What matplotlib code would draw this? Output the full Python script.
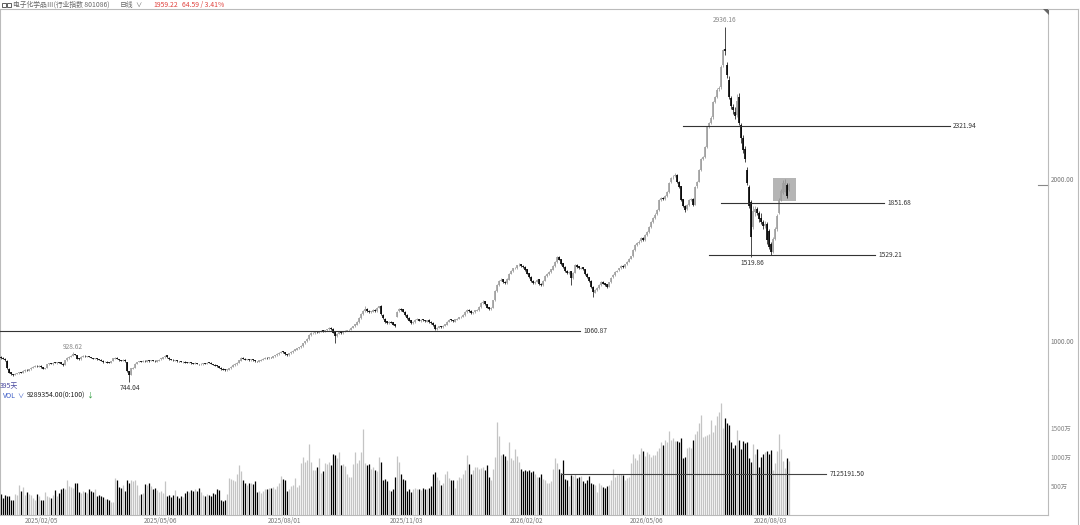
import numpy as np
import matplotlib
matplotlib.use("Agg")
import matplotlib.pyplot as plt
from matplotlib.patches import Rectangle, Polygon

plt.rcParams['font.family'] = ['Noto Sans CJK SC', 'DejaVu Sans']

# ---- daily bars (395 sessions) ----
closes = [
    895, 890, 880, 830, 805, 795, 790, 797, 800, 806,
    804, 815, 822, 818, 826, 835, 840, 846, 843, 848,
    838, 828, 832, 855, 862, 858, 866, 863, 870, 866,
    858, 852, 880, 895, 900, 910, 918, 915, 890, 888,
    902, 908, 904, 906, 900, 895, 890, 893, 886, 884,
    878, 870, 872, 866, 865, 876, 892, 895, 890, 880,
    878, 884, 875, 815, 790, 830, 836, 860, 870, 875,
    872, 878, 874, 880, 876, 882, 878, 874, 880, 885,
    892, 900, 910, 898, 888, 885, 880, 882, 876, 874,
    870, 872, 866, 864, 868, 862, 860, 864, 858, 855,
    858, 862, 860, 866, 864, 858, 852, 848, 844, 835,
    826, 822, 820, 824, 832, 840, 852, 858, 866, 880,
    895, 890, 884, 886, 882, 886, 880, 876, 874, 880,
    885, 890, 895, 893, 900, 898, 904, 912, 920, 928,
    934, 930, 918, 914, 925, 932, 940, 948, 955, 960,
    968, 985, 998, 1012, 1035, 1048, 1050, 1055, 1052, 1060,
    1064, 1058, 1066, 1072, 1080, 1075, 1050, 1030, 1045, 1052,
    1048, 1058, 1062, 1066, 1070, 1082, 1090, 1102, 1115, 1140,
    1165, 1185, 1195, 1185, 1178, 1182, 1190, 1186, 1205, 1212,
    1165, 1140, 1118, 1110, 1118, 1112, 1100, 1090, 1180, 1195,
    1192, 1180, 1160, 1142, 1125, 1112, 1118, 1130, 1134, 1124,
    1130, 1126, 1120, 1128, 1116, 1110, 1098, 1076, 1082, 1090,
    1086, 1094, 1102, 1118, 1130, 1126, 1120, 1132, 1138, 1146,
    1150, 1160, 1178, 1190, 1185, 1172, 1176, 1188, 1192, 1210,
    1236, 1242, 1225, 1205, 1196, 1204, 1250, 1310, 1345, 1372,
    1378, 1360, 1356, 1380, 1415, 1430, 1448, 1452, 1466, 1470,
    1462, 1455, 1438, 1415, 1394, 1370, 1356, 1365, 1378, 1350,
    1344, 1372, 1400, 1412, 1425, 1440, 1462, 1488, 1515, 1500,
    1475, 1455, 1430, 1418, 1425, 1390, 1420, 1466, 1458, 1448,
    1452, 1440, 1410, 1392, 1370, 1330, 1300, 1315, 1328, 1345,
    1360, 1352, 1346, 1332, 1360, 1390, 1405, 1425, 1432, 1448,
    1460, 1455, 1472, 1486, 1505, 1520, 1558, 1590, 1602, 1612,
    1634, 1620, 1650, 1668, 1702, 1730, 1755, 1778, 1805, 1866,
    1880, 1872, 1890, 1918, 1975, 2005, 2012, 2022, 1980, 1950,
    1870, 1830, 1808, 1838, 1866, 1875, 1838, 1950, 1980, 2050,
    2120, 2130, 2195, 2316, 2340, 2375, 2470, 2500, 2548, 2560,
    2690, 2790, 2785, 2640, 2500, 2445, 2420, 2385, 2480, 2340,
    2250, 2176, 2120, 1973, 1830, 1640, 1800, 1810, 1790, 1750,
    1730, 1705, 1720, 1620, 1580, 1545, 1630, 1690, 1770, 1865,
    1925, 1970, 1975, 1890, 1959.22,
]

opens = [
    900, 895, 890, 878, 828, 806, 796, 791, 796, 800,
    807, 805, 814, 823, 817, 826, 834, 841, 847, 842,
    848, 838, 829, 833, 855, 863, 857, 865, 864, 869,
    867, 859, 852, 880, 894, 901, 909, 919, 914, 891,
    887, 903, 909, 903, 905, 901, 894, 889, 894, 885,
    885, 878, 869, 873, 866, 864, 877, 891, 896, 889,
    879, 877, 885, 870, 812, 792, 829, 835, 859, 871,
    876, 871, 879, 873, 879, 877, 881, 879, 873, 879,
    886, 891, 899, 911, 897, 887, 884, 879, 883, 875,
    873, 869, 873, 865, 863, 869, 861, 859, 865, 857,
    856, 857, 863, 859, 867, 865, 857, 853, 849, 843,
    836, 827, 823, 819, 823, 831, 840, 851, 857, 865,
    879, 896, 891, 883, 887, 881, 887, 879, 877, 873,
    879, 884, 889, 896, 892, 901, 897, 905, 911, 919,
    927, 935, 931, 917, 913, 924, 931, 939, 947, 954,
    960, 967, 984, 997, 1011, 1034, 1047, 1049, 1057, 1051,
    1059, 1066, 1057, 1065, 1071, 1082, 1076, 1055, 1028, 1044,
    1054, 1047, 1057, 1063, 1065, 1069, 1081, 1089, 1101, 1114,
    1139, 1164, 1184, 1198, 1186, 1176, 1181, 1191, 1184, 1204,
    1214, 1162, 1138, 1120, 1108, 1116, 1114, 1102, 1150, 1182,
    1198, 1194, 1178, 1162, 1144, 1127, 1110, 1117, 1131, 1136,
    1122, 1132, 1127, 1118, 1130, 1117, 1111, 1100, 1074, 1081,
    1092, 1085, 1093, 1101, 1117, 1132, 1127, 1119, 1131, 1137,
    1145, 1149, 1159, 1177, 1192, 1186, 1170, 1175, 1187, 1191,
    1209, 1235, 1244, 1227, 1207, 1194, 1203, 1250, 1308, 1344,
    1371, 1380, 1362, 1354, 1378, 1414, 1429, 1447, 1450, 1465,
    1472, 1464, 1457, 1440, 1417, 1396, 1372, 1354, 1364, 1380,
    1352, 1342, 1370, 1398, 1410, 1424, 1438, 1460, 1486, 1518,
    1502, 1477, 1457, 1432, 1416, 1428, 1385, 1420, 1468, 1460,
    1446, 1454, 1442, 1412, 1394, 1372, 1332, 1298, 1313, 1326,
    1347, 1362, 1354, 1348, 1334, 1362, 1392, 1407, 1427, 1434,
    1450, 1462, 1457, 1474, 1488, 1507, 1522, 1560, 1592, 1604,
    1614, 1636, 1622, 1652, 1670, 1704, 1732, 1757, 1780, 1808,
    1868, 1882, 1874, 1892, 1920, 1977, 2007, 2014, 2024, 1982,
    1952, 1872, 1832, 1810, 1840, 1868, 1877, 1840, 1952, 1982,
    2052, 2122, 2132, 2197, 2318, 2342, 2377, 2472, 2502, 2550,
    2562, 2700, 2800, 2700, 2610, 2495, 2440, 2410, 2390, 2505,
    2330, 2250, 2180, 2053, 1950, 1856, 1700, 1795, 1812, 1790,
    1760, 1735, 1710, 1722, 1680, 1600, 1550, 1630, 1690, 1790,
    1868, 1912, 1920, 1962, 1930,
]

highs = [
    906, 898, 893, 880, 830, 808, 799, 800, 803, 809,
    810, 818, 826, 825, 829, 838, 843, 849, 849, 851,
    850, 840, 834, 858, 865, 866, 869, 868, 873, 871,
    869, 862, 883, 898, 904, 913, 928.62, 920, 916, 893,
    905, 912, 911, 909, 907, 903, 896, 896, 896, 888,
    887, 880, 875, 875, 869, 879, 895, 898, 898, 891,
    882, 887, 887, 872, 815, 833, 839, 863, 873, 878,
    878, 881, 881, 883, 881, 885, 884, 881, 883, 888,
    895, 903, 914, 913, 899, 890, 886, 885, 884, 878,
    875, 875, 874, 867, 870, 870, 864, 867, 866, 860,
    861, 865, 866, 869, 870, 867, 860, 855, 852, 846,
    838, 830, 826, 827, 835, 843, 855, 861, 869, 884,
    899, 898, 893, 889, 890, 889, 889, 882, 879, 883,
    888, 893, 898, 898, 903, 903, 907, 915, 924, 931,
    938, 937, 933, 920, 928, 935, 944, 951, 958, 964,
    972, 989, 1002, 1016, 1040, 1052, 1056, 1060, 1060, 1064,
    1068, 1068, 1070, 1076, 1085, 1086, 1080, 1058, 1050, 1056,
    1056, 1062, 1066, 1070, 1074, 1086, 1094, 1106, 1120, 1145,
    1170, 1190, 1215, 1200, 1190, 1186, 1195, 1194, 1210, 1218,
    1220, 1168, 1142, 1124, 1122, 1120, 1117, 1105, 1186, 1200,
    1205, 1198, 1182, 1165, 1148, 1130, 1122, 1134, 1140, 1138,
    1134, 1136, 1130, 1131, 1133, 1120, 1114, 1102, 1086, 1094,
    1094, 1098, 1106, 1122, 1135, 1135, 1130, 1136, 1142, 1150,
    1154, 1164, 1183, 1196, 1196, 1188, 1180, 1192, 1196, 1215,
    1242, 1250, 1248, 1230, 1210, 1208, 1255, 1315, 1350, 1378,
    1385, 1384, 1366, 1385, 1420, 1436, 1452, 1458, 1470, 1478,
    1476, 1468, 1460, 1442, 1420, 1400, 1376, 1370, 1384, 1382,
    1356, 1376, 1405, 1416, 1430, 1445, 1466, 1492, 1520, 1522,
    1505, 1480, 1460, 1436, 1430, 1432, 1424, 1472, 1472, 1462,
    1456, 1458, 1445, 1416, 1396, 1374, 1336, 1320, 1332, 1350,
    1366, 1366, 1358, 1350, 1365, 1395, 1410, 1430, 1438, 1452,
    1466, 1465, 1476, 1492, 1510, 1526, 1565, 1596, 1610, 1620,
    1640, 1640, 1656, 1675, 1708, 1736, 1762, 1785, 1812, 1872,
    1888, 1886, 1896, 1925, 1982, 2012, 2020, 2032, 2026, 1988,
    1956, 1876, 1836, 1844, 1872, 1882, 1880, 1956, 1988, 2058,
    2128, 2140, 2202, 2325, 2350, 2385, 2478, 2508, 2556, 2570,
    2700, 2800, 2936.16, 2720, 2630, 2510, 2460, 2440, 2520, 2530,
    2345, 2270, 2200, 2070, 1960, 1870, 1830, 1830, 1825, 1800,
    1790, 1745, 1740, 1730, 1690, 1610, 1640, 1700, 1780, 1880,
    1935, 1990, 2000, 1975, 1975,
]

lows = [
    890, 886, 876, 826, 800, 790, 786, 788, 794, 797,
    801, 802, 811, 815, 814, 823, 832, 838, 840, 839,
    835, 824, 826, 830, 852, 855, 854, 861, 860, 863,
    855, 848, 850, 878, 891, 898, 906, 912, 887, 885,
    885, 900, 902, 900, 898, 892, 887, 886, 883, 881,
    875, 866, 867, 863, 862, 862, 874, 888, 887, 877,
    875, 875, 872, 810, 744.04, 788, 826, 832, 856, 867,
    869, 868, 871, 871, 873, 874, 875, 871, 871, 876,
    883, 888, 896, 895, 885, 882, 877, 877, 873, 871,
    867, 866, 863, 861, 861, 859, 857, 856, 855, 852,
    853, 854, 857, 856, 861, 855, 849, 845, 841, 832,
    823, 819, 816, 817, 820, 828, 837, 848, 854, 862,
    876, 887, 881, 880, 879, 878, 877, 873, 871, 871,
    876, 881, 886, 890, 889, 895, 894, 902, 908, 916,
    924, 927, 915, 910, 910, 921, 928, 935, 943, 951,
    957, 964, 980, 994, 1008, 1030, 1043, 1045, 1048, 1048,
    1055, 1054, 1053, 1061, 1068, 1070, 1046, 985, 1025, 1040,
    1042, 1044, 1054, 1059, 1062, 1066, 1078, 1086, 1098, 1110,
    1135, 1160, 1180, 1180, 1172, 1172, 1178, 1180, 1180, 1200,
    1160, 1135, 1110, 1104, 1104, 1108, 1096, 1085, 1145, 1176,
    1186, 1176, 1156, 1138, 1120, 1106, 1106, 1113, 1128, 1120,
    1118, 1122, 1116, 1114, 1112, 1105, 1094, 1070, 1068, 1077,
    1080, 1082, 1090, 1098, 1114, 1120, 1116, 1116, 1128, 1133,
    1142, 1146, 1155, 1173, 1180, 1168, 1166, 1172, 1184, 1187,
    1205, 1230, 1220, 1200, 1190, 1190, 1200, 1245, 1302, 1340,
    1366, 1355, 1350, 1350, 1374, 1410, 1425, 1442, 1446, 1462,
    1458, 1450, 1432, 1410, 1390, 1365, 1350, 1350, 1360, 1345,
    1336, 1338, 1366, 1395, 1406, 1420, 1435, 1456, 1482, 1496,
    1470, 1450, 1425, 1412, 1412, 1345, 1380, 1416, 1452, 1442,
    1442, 1436, 1405, 1388, 1365, 1325, 1270, 1294, 1308, 1322,
    1340, 1348, 1340, 1326, 1330, 1356, 1386, 1402, 1422, 1428,
    1446, 1450, 1452, 1470, 1484, 1502, 1518, 1555, 1586, 1598,
    1608, 1614, 1618, 1648, 1665, 1698, 1726, 1750, 1775, 1802,
    1862, 1866, 1868, 1888, 1914, 1970, 2000, 2008, 1975, 1945,
    1862, 1822, 1795, 1805, 1832, 1860, 1830, 1836, 1945, 1976,
    2046, 2115, 2126, 2190, 2310, 2335, 2370, 2465, 2495, 2540,
    2555, 2690, 2760, 2620, 2490, 2430, 2400, 2370, 2380, 2330,
    2220, 2160, 2100, 1960, 1820, 1519.86, 1690, 1770, 1775, 1735,
    1720, 1690, 1695, 1600, 1565, 1529.21, 1540, 1620, 1680, 1780,
    1860, 1905, 1915, 1880, 1925,
]

# volume in 万
volumes = [
    360, 300, 340, 330, 320, 260, 260, 370, 350, 510,
    420, 480, 340, 400, 360, 340, 300, 260, 365, 330,
    250, 255, 390, 330, 310, 300, 340, 430, 330, 380,
    450, 470, 440, 600, 500, 480, 470, 560, 550, 400,
    380, 420, 390, 380, 450, 420, 400, 440, 330, 350,
    320, 310, 270, 280, 250, 230, 220, 640, 610, 490,
    470, 510, 420, 610, 560, 600, 580, 600, 520, 350,
    360, 380, 540, 520, 560, 500, 450, 470, 430, 400,
    420, 380, 585, 330, 340, 310, 350, 430, 320, 300,
    330, 310, 380, 420, 400, 430, 410, 440, 420, 460,
    400, 340, 320, 360, 350, 330, 380, 360, 450, 430,
    250, 240, 260, 365, 640, 620, 610, 590, 700, 870,
    760, 600, 550, 520, 560, 550, 530, 580, 400, 420,
    380, 410, 450, 440, 470, 460, 480, 450, 500, 560,
    680, 620, 600, 420, 440, 500, 520, 640, 480, 520,
    900, 1000, 915, 950, 1230, 915, 770, 780, 820, 990,
    720, 760, 900, 880, 920, 870, 1050, 1030, 980, 1090,
    860, 880, 850, 700, 650, 660, 880, 1090, 900, 950,
    1090, 1490, 900, 860, 880, 800, 820, 780, 760, 1000,
    915, 600, 620, 590, 430, 420, 440, 650, 1020, 915,
    700, 620, 600, 420, 440, 400, 450, 460, 440, 450,
    430, 460, 450, 440, 470, 500, 710, 740, 650, 610,
    520, 560, 700, 760, 640, 610, 600, 470, 600, 660,
    640, 700, 770, 1030, 885, 700, 780, 820, 820, 800,
    810, 830, 780, 870, 650, 600, 800, 1000, 1610, 1360,
    1040, 1060, 1020, 950, 1260, 980, 940, 1130, 1010, 915,
    800, 760, 780, 760, 770, 740, 760, 700, 660, 660,
    700, 620, 600, 550, 560, 590, 800, 990, 900, 800,
    730, 950, 620, 600, 500, 690, 680, 700, 640, 660,
    680, 590, 560, 600, 670, 560, 540, 520, 400, 550,
    520, 480, 470, 500, 520, 600, 790, 650, 690, 700,
    710, 690, 600, 640, 660, 900, 1050, 980, 950, 1060,
    1160, 1100, 1020, 1080, 1060, 1000, 1040, 1030, 1100, 1150,
    1250, 1200, 1300, 1250, 1440, 1300, 1320, 1280, 1270, 1250,
    1330, 990, 1000, 1150, 1180, 1160, 1300, 1400, 1450, 1590,
    1720, 1350, 1360, 1380, 1400, 1640, 1430, 1550, 1700, 1770,
    1930, 1500, 1680, 1590, 1550, 1250, 1150, 1200, 1470, 1300,
    1145, 1270, 1240, 1260, 990, 920, 1220, 1050, 1130, 835,
    1000, 1050, 1080, 1100, 1060, 1120, 775, 900, 1100, 1390,
    1130, 930, 815, 980, 928.9354,
]

date_pos = [20, 80, 142, 203, 263, 323, 385]
date_labels = ['2025/02/05', '2025/05/06', '2025/08/01', '2025/11/03',
               '2026/02/02', '2026/05/06', '2026/08/03']

# user drawn levels: (value, start bar, end bar)
levels = [(1060.87, -0.5, 289.5), (2321.94, 341, 474.5),
          (1851.68, 360, 441.5), (1529.21, 354, 437)]
vol_mean = 712.519150

o = np.array(opens, float)
c = np.array(closes, float)
h = np.array(highs, float)
l = np.array(lows, float)
v = np.array(volumes, float)
x = np.arange(len(c))
up = c >= o

W, H = 1080, 525
def fx(px):
    return px / W
def fy(py):
    return 1 - py / H

fig = plt.figure(figsize=(10.8, 5.25), dpi=100)
ax = fig.add_axes([0, fy(390), fx(1048), fy(9) - fy(390)])
axv = fig.add_axes([0, fy(515), fx(1048), fy(390) - fy(515)])

upc = '#8c8c8c'
dnc = '#000000'

# candles: thin wick + thicker body line
body_lo = np.minimum(o, c)
body_hi = np.maximum(o, c)
body_hi = np.where(body_hi - body_lo < 4, body_lo + 4, body_hi)
ax.vlines(x[up], l[up], h[up], color=upc, linewidth=0.5, zorder=2)
ax.vlines(x[~up], l[~up], h[~up], color=dnc, linewidth=0.5, zorder=2)
ax.vlines(x[up], body_lo[up], body_hi[up], color='#a0a0a0', linewidth=1.2, zorder=3)
ax.vlines(x[~up], body_lo[~up], body_hi[~up], color=dnc, linewidth=1.2, zorder=3)

ax.set_xlim(-0.5, 523.5)
ax.set_ylim(697.5, 3044.8)

# highlight box on latest bars
ax.add_patch(Rectangle((386, 1862), 11.5, 141.6, facecolor='#b5b5b5',
                       edgecolor='none', zorder=1))

for val, x0, x1 in levels:
    ax.plot([x0, x1], [val, val], color='#333333', linewidth=0.8, zorder=4)
    ax.text(x1 + 1.6, val, f'{val:.2f}', fontsize=4.8, color='#333333',
            va='center', ha='left')

# last price marker
ax.plot([518.5, 523.5], [closes[-1], closes[-1]], color='#888888', linewidth=0.8,
        clip_on=False)

ax.text(362, 2950, '2936.16', fontsize=4.8, color='#888888', ha='center', va='bottom')
ax.text(36, 940, '928.62', fontsize=4.8, color='#888888', ha='center', va='bottom')
ax.text(64.5, 735, '744.04', fontsize=4.8, color='#333333', ha='center', va='top')
ax.text(375.5, 1505, '1519.86', fontsize=4.8, color='#333333', ha='center', va='top')

ax.yaxis.tick_right()
ax.set_yticks([1000, 2000])
ax.set_yticklabels(['1000.00', '2000.00'])
ax.tick_params(axis='y', length=0, pad=2, labelsize=4.6, labelcolor='#777777')
ax.set_xticks([])
for s in ['left', 'top', 'right']:
    ax.spines[s].set_color('#bbbbbb')
    ax.spines[s].set_linewidth(0.8)
ax.spines['bottom'].set_visible(False)

# volume
vcol = np.where(up, '#c4c4c4', '#000000')
axv.vlines(x, 0, v, colors=vcol, linewidth=0.9, zorder=2)
axv.plot([280, 412.5], [vol_mean, vol_mean], color='#444444', linewidth=0.8, zorder=3)
axv.text(414.5, vol_mean, '7125191.50', fontsize=4.8, color='#333333',
         va='center', ha='left')
axv.set_xlim(-0.5, 523.5)
axv.set_ylim(0, 2155)
axv.yaxis.tick_right()
axv.set_yticks([500, 1000, 1500])
axv.set_yticklabels(['500万', '1000万', '1500万'])
axv.tick_params(axis='y', length=0, pad=2, labelsize=4.6, labelcolor='#888888')
axv.set_xticks(date_pos)
axv.set_xticklabels(date_labels)
axv.tick_params(axis='x', length=0, pad=1.5, labelsize=4.6, labelcolor='#777777')
for s in ['left', 'bottom', 'right']:
    axv.spines[s].set_color('#bbbbbb')
    axv.spines[s].set_linewidth(0.8)
axv.spines['top'].set_visible(False)

# header
fig.patches.append(Rectangle((fx(2), fy(7)), fx(4), fy(3) - fy(7), transform=fig.transFigure,
                             facecolor='none', edgecolor='#444444', linewidth=0.6))
fig.patches.append(Rectangle((fx(7), fy(7)), fx(4), fy(3) - fy(7), transform=fig.transFigure,
                             facecolor='none', edgecolor='#444444', linewidth=0.6))
fig.text(fx(13), fy(5), '电子化学品Ⅲ(行业指数 801086)', fontsize=4.9, color='#666666',
         va='center', ha='left')
fig.text(fx(120), fy(5), '日线', fontsize=4.9, color='#666666', va='center', ha='left')
fig.text(fx(135), fy(5), '∨', fontsize=4.5, color='#666666', va='center', ha='left')
fig.text(fx(153), fy(5), '1959.22', fontsize=4.9, color='#e0403c', va='center', ha='left')
fig.text(fx(182), fy(5), '64.59 / 3.41%', fontsize=4.9, color='#e0403c', va='center', ha='left')

fig.text(fx(0), fy(386), '395天', fontsize=5, color='#4b4ba0', va='center', ha='left')
fig.text(fx(3), fy(396), 'VOL', fontsize=5, color='#3b5bc6', va='center', ha='left')
fig.text(fx(17), fy(396), '∨', fontsize=4.5, color='#3b5bc6', va='center', ha='left')
fig.text(fx(27), fy(396), '9289354.00(0:100)', fontsize=5, color='#222222',
         va='center', ha='left')
fig.text(fx(86), fy(396), '↓', fontsize=5, color='#2a9a3a', va='center', ha='left')

# frame pieces on the right
fig.lines.append(plt.Line2D([fx(1078), fx(1078)], [fy(9), fy(525)], transform=fig.transFigure,
                            color='#bbbbbb', linewidth=0.8))
fig.lines.append(plt.Line2D([fx(1048), fx(1078)], [fy(9), fy(9)], transform=fig.transFigure,
                            color='#bbbbbb', linewidth=0.8))
fig.patches.append(Polygon([[fx(1043), fy(9)], [fx(1049), fy(9)], [fx(1049), fy(15)]],
                           closed=True, transform=fig.transFigure, facecolor='#666666',
                           edgecolor='none'))

fig.savefig('out.png', dpi=100)
